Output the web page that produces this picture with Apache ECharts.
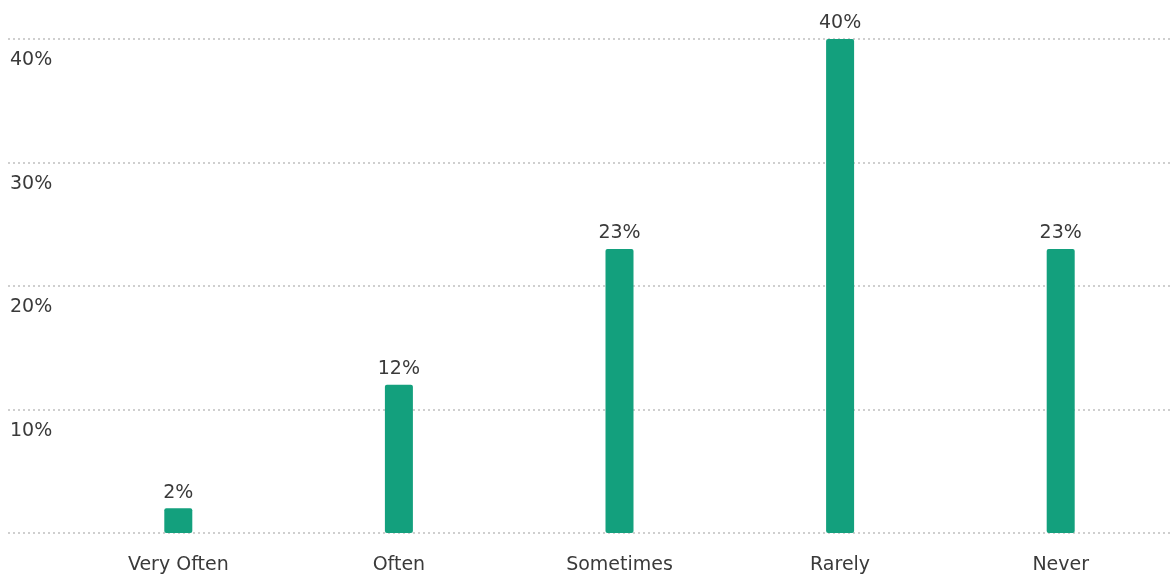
<!DOCTYPE html>
<html><head><meta charset="utf-8">
<script src="https://cdn.jsdelivr.net/npm/echarts@6/dist/echarts.min.js"></script>
<style>html,body{margin:0;padding:0;background:#fff}#c{width:1171px;height:582px}</style>
</head><body><div id="c"></div>
<script>
const categories = ['Very Often', 'Often', 'Sometimes', 'Rarely', 'Never'];
const values = [2, 12, 23, 40, 23];
const valueLabels = ['2%', '12%', '23%', '40%', '23%'];
const yTicks = [0, 10, 20, 30, 40];

const chart = echarts.init(document.getElementById('c'));
const font = 'DejaVu Sans, Arial, sans-serif';
chart.setOption({
  animation: false,
  grid: [
    {left: 8, right: 0, top: 39, bottom: 49},
    {left: 68, right: -5, top: 39, bottom: 49}
  ],
  xAxis: [
    {gridIndex: 0, type: 'value', show: false, min: 0, max: 1},
    {gridIndex: 1, type: 'category', data: categories,
     axisLine: {show: false}, axisTick: {show: false},
     axisLabel: {margin: 23, fontSize: 19, color: '#3a3a3a', fontFamily: font}}
  ],
  yAxis: [
    {gridIndex: 0, type: 'value', min: yTicks[0], max: yTicks[yTicks.length - 1], interval: 10,
     axisLine: {show: false}, axisTick: {show: false},
     splitLine: {show: true, lineStyle: {color: '#cfcfcf', width: 2, type: [2, 3]}},
     axisLabel: {inside: true, align: 'left', verticalAlign: 'top', margin: 2,
       padding: [12, 0, 0, 0], fontSize: 19, color: '#3a3a3a', fontFamily: font,
       formatter: v => yTicks.includes(v) && v !== 0 ? v + '%' : ''}},
    {gridIndex: 1, type: 'value', min: 0, max: 40, show: false}
  ],
  series: [{
    type: 'bar', xAxisIndex: 1, yAxisIndex: 1, data: values, barWidth: 28,
    itemStyle: {color: '#13a07d', borderRadius: 2},
    label: {show: true, position: 'top', distance: 6, fontSize: 19, color: '#3a3a3a', fontFamily: font,
      formatter: p => valueLabels[p.dataIndex]}
  }]
});
</script></body></html>
